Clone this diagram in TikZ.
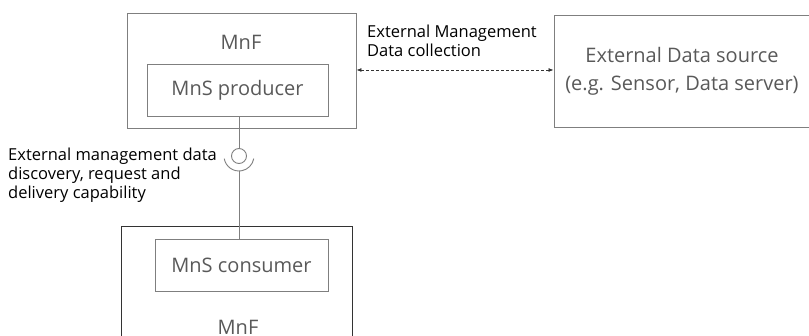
\documentclass[tikz,border=0pt]{standalone}
\usepackage{fontspec}
\setmainfont{Open Sans}
\usepackage{tikz}
\usetikzlibrary{arrows.meta}
\usetikzlibrary{positioning}
\usepackage{xcolor}
\definecolor{boxgrey}{HTML}{7F7F7F}
\definecolor{txtgrey}{HTML}{595959}

\tikzset{
  fbox/.style={draw=boxgrey, line width=0.9pt, inner sep=0pt},
  blabel/.style={text=txtgrey, font=\fontsize{20}{28}\selectfont, align=center},
  note/.style={text=black, font=\fontsize{16.5}{19}\selectfont, align=left, inner sep=0pt},
}

\begin{document}
\begin{tikzpicture}[x=1pt, y=-1pt]
   \useasboundingbox (0,0) rectangle (809,336);
   \clip (0,0) rectangle (809,336);

   % producer side
   \node[fbox, minimum width=229pt, minimum height=115pt] (mnfp) at (241.5,70.5) {};
   \node[blabel] (mnfplab) at (241,42) {MnF};
   \node[fbox, blabel, minimum width=181pt, minimum height=52pt] (prod) at (237.5,90) {MnS producer};

   % external source
   \node[fbox, blabel, minimum width=256pt, minimum height=112pt] (ext) at (682,71)
      {External Data source\\(e.g. Sensor, Data server)};

   \draw[dashed, dash pattern=on 3pt off 2pt, boxgrey!40!black, line width=0.8pt,
         {Latex[length=5pt,width=4pt]}-{Latex[length=5pt,width=4pt]}] (mnfp.east |- 0,70) -- (ext.west |- 0,70);
   \node[note, anchor=north west] (colllab) at (367,25) {External Management\\Data collection};

   % consumer side
   \node[draw=black!80, line width=0.9pt, minimum width=231pt, minimum height=146pt] (mnfc) at (236.5,299) {};
   \node[fbox, blabel, minimum width=173pt, minimum height=52pt] (cons) at (241.5,265) {MnS consumer};
   \node[blabel] (mnfclab) at (238,327) {MnF};

   % interface
   \node[draw=boxgrey, line width=0.9pt, circle, minimum size=15pt, inner sep=0pt] (ball) at (239,156) {};
   \draw[boxgrey, line width=0.9pt] (ball.center) ++(190:15pt) arc[start angle=190, end angle=350, radius=15pt];
   \coordinate (sock) at (239,171);
   \draw[boxgrey, line width=0.9pt] (prod.south -| ball) -- (ball.north);
   \draw[boxgrey, line width=0.9pt] (sock) -- (cons.north -| sock);
   \node[note, anchor=north west] (iflab) at (8,148)
      {External management data\\discovery, request and\\delivery capability};
\end{tikzpicture}
\end{document}
